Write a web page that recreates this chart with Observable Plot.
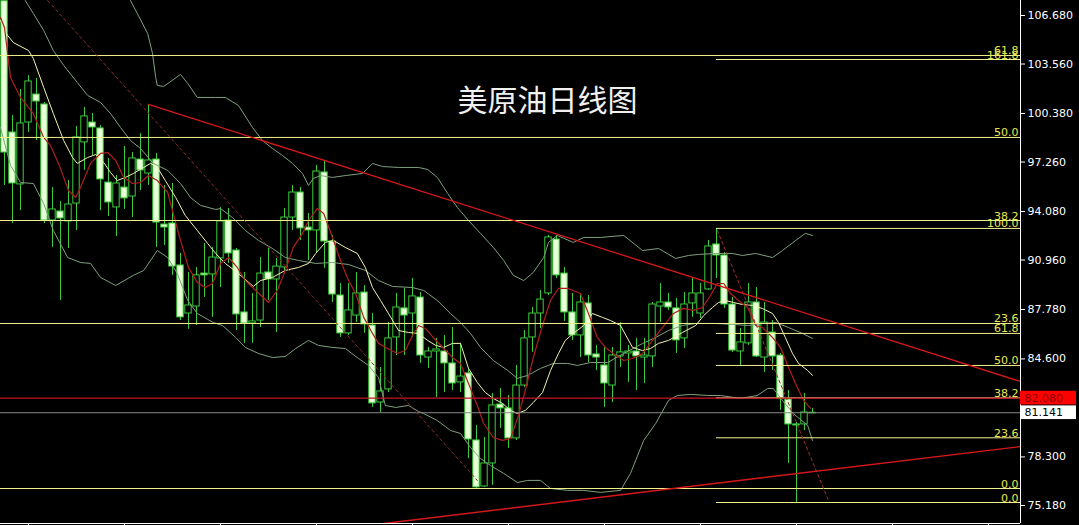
<!DOCTYPE html>
<html>
<head>
<meta charset="utf-8">
<script src="https://cdn.jsdelivr.net/npm/d3@7"></script>
<script src="https://cdn.jsdelivr.net/npm/@observablehq/plot@0.6"></script>
<style>
  html, body { margin: 0; padding: 0; background: #000; }
  #chart svg { display: block; }
</style>
</head>
<body>
<div id="chart"></div>
<script>
// ---------- DATA (candle index 0..101, prices in USD) ----------
const open = [
  107.60, 99.16, 95.82, 99.80, 101.60, 100.96, 93.50, 94.08, 93.44, 94.59,
  98.52, 99.80, 99.42, 95.94, 94.34, 95.62, 95.04, 97.42, 96.52, 97.42,
  93.24, 93.31, 90.61, 87.52, 87.97, 90.09, 90.03, 91.06, 93.50, 91.57,
  87.59, 86.88, 87.07, 90.16, 89.71, 90.48, 93.69, 95.30, 93.05, 92.86,
  96.59, 92.15, 88.68, 86.24, 87.39, 88.87, 86.75, 81.80, 82.64, 85.98,
  87.85, 87.52, 88.55, 84.69, 85.08, 85.08, 84.31, 83.09, 83.67, 79.36,
  76.40, 77.88, 81.67, 81.42, 79.49, 82.89, 85.98, 87.52, 88.81, 92.28,
  90.09, 87.59, 86.11, 88.17, 84.89, 84.18, 82.89, 84.76, 84.95, 85.08,
  84.69, 84.76, 87.97, 88.23, 87.85, 85.92, 88.17, 87.52, 89.07, 91.96,
  91.25, 88.10, 85.08, 85.60, 88.23, 84.69, 86.30, 84.82, 81.99, 80.39,
  80.39, 81.10];
const high = [
  107.64, 100.25, 101.92, 102.82, 102.63, 101.09, 95.62, 94.72, 96.07, 99.54,
  100.77, 100.38, 99.61, 97.49, 96.39, 98.26, 97.87, 99.09, 100.96, 97.81,
  95.75, 95.88, 91.38, 90.16, 90.48, 92.02, 91.77, 94.34, 94.27, 91.70,
  90.16, 88.81, 91.12, 91.70, 91.06, 94.27, 95.75, 95.62, 93.95, 97.04,
  97.36, 92.54, 89.45, 89.45, 90.16, 89.32, 87.52, 84.05, 86.94, 88.81,
  89.13, 89.77, 88.87, 85.34, 85.92, 86.11, 86.62, 85.60, 83.99, 80.32,
  79.55, 82.38, 82.70, 82.25, 84.18, 86.43, 87.91, 89.00, 92.54, 92.54,
  90.48, 88.81, 88.81, 88.68, 85.47, 85.34, 85.34, 86.94, 85.47, 85.92,
  85.92, 88.23, 89.45, 88.81, 88.49, 88.87, 89.77, 89.45, 92.22, 92.99,
  91.44, 88.55, 86.56, 89.45, 89.19, 88.23, 87.07, 84.95, 82.57, 80.52,
  82.38, 81.42];
const low = [
  95.75, 93.31, 94.14, 99.16, 98.64, 93.31, 91.77, 88.36, 91.70, 92.86,
  96.72, 97.68, 94.14, 93.76, 92.47, 94.21, 93.69, 95.43, 95.75, 91.77,
  91.89, 89.97, 87.07, 86.50, 86.75, 88.55, 87.27, 89.19, 90.74, 86.43,
  85.60, 85.60, 86.62, 88.36, 86.30, 90.29, 92.86, 92.22, 90.93, 91.38,
  90.42, 88.23, 85.98, 86.11, 86.94, 86.24, 81.48, 81.16, 82.44, 84.82,
  84.82, 85.98, 84.31, 83.99, 82.12, 82.44, 82.57, 82.44, 78.20, 76.27,
  76.34, 76.47, 80.13, 78.85, 79.36, 82.77, 85.02, 86.56, 88.68, 89.77,
  87.01, 85.79, 84.69, 84.37, 83.86, 81.48, 81.80, 84.05, 83.09, 82.57,
  83.02, 84.05, 86.94, 87.72, 84.95, 85.27, 87.27, 87.20, 89.00, 89.77,
  87.85, 85.02, 84.18, 85.47, 84.69, 83.73, 83.86, 81.29, 77.88, 75.37,
  80.00, 81.09];
const close = [
  97.87, 95.88, 99.74, 102.44, 101.15, 93.50, 94.21, 93.63, 94.53, 98.84,
  100.19, 99.48, 96.14, 94.66, 95.88, 94.92, 97.49, 96.72, 97.36, 93.37,
  93.05, 90.54, 87.27, 88.04, 89.97, 89.97, 91.12, 93.44, 91.38, 87.46,
  86.88, 87.01, 90.09, 89.71, 90.54, 93.69, 95.30, 92.99, 92.86, 96.65,
  92.15, 88.74, 86.24, 87.72, 88.81, 86.82, 81.74, 82.51, 85.92, 87.91,
  87.39, 88.62, 84.82, 85.08, 85.21, 84.31, 83.02, 83.47, 79.42, 76.34,
  77.88, 81.61, 81.42, 79.49, 82.89, 85.92, 87.52, 88.42, 92.41, 89.97,
  87.59, 86.11, 88.23, 84.82, 84.69, 83.02, 84.82, 85.02, 85.08, 84.76,
  84.82, 88.10, 88.23, 87.91, 85.79, 88.10, 88.81, 88.81, 91.83, 91.25,
  88.10, 85.14, 85.66, 88.23, 84.76, 86.94, 84.76, 82.06, 80.39, 80.32,
  81.16, 81.141];

// Moving averages / Bollinger bands: [candle index, price]
const maFast = [[-0.5,106.55],[0,105.91],[0.75,102.69],[2,101.41],[3.6,100.38],[4.9,98.84],[5.75,98.32],[6.75,97.17],[8,95.43],[8.9,94.98],[9.5,95.62],[10.75,97.17],[12,97.81],[12.9,97.87],[13.9,97.36],[14.9,96.27],[16,95.88],[17,95.94],[18,96.39],[19.1,96.07],[20.4,95.30],[21.1,93.95],[22,92.22],[23,90.48],[24.1,89.52],[25.1,89.19],[26,89.45],[27,90.74],[28,91.12],[29.1,90.48],[30.1,89.64],[31.4,89.00],[33,88.23],[34.1,89.00],[35.1,90.29],[36.1,91.77],[37.25,92.67],[38,93.50],[39.1,94.27],[39.9,93.95],[41,92.41],[42,90.93],[43,89.64],[43.9,88.81],[44.9,87.27],[46,86.24],[46.75,85.60],[47.9,85.27],[49.1,84.95],[50.1,85.14],[51,86.11],[51.75,86.75],[52.6,86.56],[53.6,85.98],[54.9,85.27],[56,84.69],[57,84.31],[58,83.02],[59.1,81.61],[59.9,80.45],[61.1,79.55],[62.25,79.36],[63.25,79.49],[64.25,80.97],[65.1,82.57],[66.1,84.69],[67.25,86.75],[68.25,88.36],[69.25,89.13],[70.4,89.13],[72,88.81],[73,87.52],[74.1,85.98],[75.1,85.34],[76.1,84.95],[77.4,84.50],[78.5,84.63],[79.75,84.95],[81,85.79],[82.25,86.62],[83.6,87.52],[84.9,87.85],[86.1,87.72],[87.25,87.91],[88.25,88.68],[89.1,89.45],[89.9,89.45],[90.75,88.81],[91.75,88.36],[92.9,87.91],[93.9,86.75],[94.75,86.62],[96,85.98],[97,85.34],[98,84.05],[99.1,82.77],[99.9,81.93],[100.75,81.42]];
const maSlow = [[-0.5,106.36],[0.1,105.59],[1.1,104.94],[3,104.43],[3.6,103.92],[4.9,102.05],[6.1,100.38],[7.4,98.64],[8.5,97.55],[9.1,97.17],[10.4,97.55],[11.4,97.74],[12.4,97.23],[13.25,96.59],[14.1,96.07],[15.1,96.27],[16.1,96.52],[17.4,96.91],[18.25,97.17],[19.1,96.91],[20.1,96.07],[21.4,94.98],[22.6,93.82],[24.1,92.86],[25.4,92.02],[26.4,91.38],[27.6,90.74],[29.25,90.09],[31.1,89.26],[32,89.64],[33.5,89.84],[35.1,90.29],[36.75,90.48],[38,90.74],[38.9,91.38],[40.1,92.09],[41.1,92.22],[42.6,91.77],[44.1,91.38],[45.1,90.48],[46,89.19],[47,88.36],[48,87.52],[49.25,86.43],[50.5,86.30],[51.75,86.24],[52.9,85.79],[53.9,85.47],[54.9,85.34],[56,85.60],[57,85.60],[58,83.99],[59.1,83.09],[60.1,82.44],[61.1,82.06],[62.25,81.74],[63.25,81.29],[64.1,81.09],[65.1,81.29],[66.1,81.80],[67.25,82.44],[68.25,83.86],[69.25,84.95],[70.1,85.79],[71.1,86.24],[72.4,86.75],[73.5,87.52],[74.75,87.27],[75.75,87.07],[77,86.75],[78.5,85.34],[79.75,85.14],[80.75,85.27],[81.75,85.60],[83,85.79],[84.75,86.30],[86.4,86.75],[87.4,87.39],[88.5,87.91],[89.25,88.23],[90.1,88.36],[91.1,88.23],[92.25,88.10],[93.5,88.04],[94.75,87.84],[96,87.52],[96.75,86.94],[97.6,85.98],[98.5,84.95],[99.25,84.31],[100.4,83.86],[101,83.54]];
const bandUpper = [[15.75,107.64],[16.6,106.81],[17.9,105.52],[18.5,104.24],[18.9,102.69],[19.1,102.18],[19.9,102.12],[22,102.89],[22.9,102.31],[24.1,101.41],[26.4,101.41],[27.6,101.41],[29.25,100.89],[31,99.48],[32.25,98.64],[33.5,98.13],[34.75,97.68],[36,97.17],[37.25,96.52],[38,95.75],[38.6,96.20],[39.5,96.39],[41,96.27],[42.6,96.39],[44.75,96.52],[46,97.17],[47.25,96.97],[49.25,96.91],[51.75,96.91],[52.9,96.78],[54.1,96.27],[55.4,95.24],[56.6,94.34],[58,93.50],[59.5,92.67],[61.1,91.77],[62.4,90.93],[63.6,89.97],[64.9,89.64],[66.1,90.16],[67.4,91.12],[68,92.09],[69.1,92.54],[71.1,92.09],[72.4,92.41],[74.5,92.41],[77.4,92.54],[79.75,91.57],[81.75,91.70],[83.9,91.06],[85.5,91.25],[86.75,91.32],[88.9,91.38],[91,91.38],[92.25,91.25],[93.9,91.38],[96,91.12],[97.25,91.57],[98.9,92.22],[100.1,92.67],[101,92.54]];
const bandMiddle = [[2.6,107.64],[3.6,106.81],[4.9,105.72],[6.1,104.43],[7.4,103.47],[9.1,102.37],[10.4,101.54],[12,101.09],[13.25,100.38],[14.5,99.48],[15.75,98.64],[17,98.13],[18.6,97.17],[20.4,96.72],[22,95.88],[23.25,94.98],[24.5,94.47],[26.4,94.21],[27,94.27],[28.5,93.69],[30.1,92.86],[31.75,92.22],[33.5,91.70],[35.1,91.12],[36.75,90.93],[38.9,90.74],[41,90.80],[43,90.67],[45.1,90.29],[46.75,89.64],[48.5,89.26],[51,89.19],[52.4,89.00],[54.1,88.36],[55.75,87.52],[57,86.94],[58.25,86.24],[59.5,85.34],[61.1,84.50],[62.9,83.86],[64.1,83.35],[65.4,83.54],[67,83.99],[68.6,84.31],[70.4,84.31],[71.6,84.18],[73.25,84.37],[75.4,84.37],[77.4,84.95],[79.75,85.59],[81.4,85.98],[83,86.43],[84.75,86.75],[86.4,86.88],[88.9,86.88],[91,86.82],[93,86.75],[94.75,86.88],[96.4,86.94],[98,86.62],[99.75,86.24],[101,85.92]];
const bandLower = [[-0.5,99.48],[0.75,97.04],[2,95.94],[3.6,95.88],[4.9,94.59],[6.1,92.86],[7.9,91.12],[9.5,90.80],[10.75,90.74],[12,89.84],[13.9,89.32],[16.1,89.97],[17.4,90.29],[19.1,91.57],[20.4,91.12],[21.6,90.09],[22.9,88.36],[24.1,87.52],[26.1,86.94],[27.25,86.75],[28.9,85.98],[30.1,85.34],[31.75,84.95],[33.5,84.69],[35.1,84.76],[36.4,85.27],[38,85.79],[39.25,85.47],[41,85.34],[42.6,85.27],[44.25,84.63],[45.5,84.18],[46.75,83.41],[47.6,81.61],[48.9,81.48],[50.5,81.61],[51.75,81.22],[52.4,81.09],[54.1,80.64],[55.75,80.00],[57,79.81],[58.25,78.91],[59.5,78.20],[60.75,77.75],[62.4,77.24],[64.1,76.66],[65.4,76.79],[67,76.79],[68.25,76.27],[70.4,76.15],[72.4,76.15],[74.5,76.02],[77,76.15],[78.25,77.24],[79.9,79.36],[81.4,80.45],[83,81.93],[84.1,82.25],[85.75,82.32],[87.9,82.25],[89.5,82.25],[92,82.06],[94.1,82.25],[95.4,82.70],[96.1,82.70],[97.25,81.93],[98.6,81.09],[100.4,80.32],[101,79.36]];

// Fibonacci retracement sets
const fibALabels = ["0.0", "23.6", "38.2", "50.0", "61.8"];
const fibAValues = [76.27, 86.88, 93.50, 98.84, 104.11];
const fibBLabels = ["0.0", "23.6", "38.2", "50.0", "61.8", "100.0", "161.8"];
const fibBValues = [75.37, 79.53, 82.10, 84.18, 86.24, 92.99, 103.85];
const fibBStart = 89;

// Trend lines [candle index, price]
const resistanceLine = [[18, 100.96], [127, 83.15]];
const supportLine = [[47.4, 74.02], [127, 78.97]];
const channelDash1 = [[5.4, 107.64], [59.1, 76.79]];
const channelDash2 = [[89.1, 92.86], [103, 75.50]];

// Price markers and axis ticks
const markPrice = 82.080;
const lastPrice = 81.141;
const yTicks = [106.680, 103.560, 100.380, 97.260, 94.080, 90.960, 87.780, 84.600, 78.300, 75.180];
const xTicks = [3, 15, 27, 39, 51, 63, 75, 87, 99, 111, 123];
const title = "美原油日线图";

// ---------- CHART ----------
const xMin = -0.5, xMax = 127, yMin = 74.02, yMax = 107.644;
const green = "#3ccc3c";
const bearFill = "#e8ffd8";
const fibLine = "#f2f28c";
const fibText = "#e8e84c";
const candles = open.map((o, i) => ({i, open: o, high: high[i], low: low[i], close: close[i]}));
const fibA = fibAValues.map((v, k) => ({v, label: fibALabels[k]}));
const fibB = fibBValues.map((v, k) => ({v, label: fibBLabels[k]}));
const px = d => d[0], py = d => d[1];

const chart = Plot.plot({
  width: 1079,
  height: 525,
  marginLeft: 0,
  marginRight: 59,
  marginTop: 0,
  marginBottom: 2,
  style: {background: "#000", color: "#fff", fontFamily: "DejaVu Sans", overflow: "visible"},
  x: {type: "linear", domain: [xMin, xMax], axis: null},
  y: {type: "linear", domain: [yMin, yMax], axis: null},
  marks: [
    // candles
    Plot.ruleX(candles, {x: "i", y1: "low", y2: "high", stroke: green, strokeWidth: 1}),
    Plot.rect(candles, {
      x1: d => d.i - 0.4, x2: d => d.i + 0.4, y1: "open", y2: "close",
      fill: d => d.close >= d.open ? "#000" : bearFill, stroke: green, strokeWidth: 1
    }),
    // Bollinger bands
    Plot.line(bandUpper, {x: px, y: py, stroke: "#7fa07f", strokeWidth: 1}),
    Plot.line(bandMiddle, {x: px, y: py, stroke: "#7fa07f", strokeWidth: 1}),
    Plot.line(bandLower, {x: px, y: py, stroke: "#7fa07f", strokeWidth: 1}),
    // moving averages
    Plot.line(maSlow, {x: px, y: py, stroke: "#f4f4b0", strokeWidth: 1}),
    Plot.line(maFast, {x: px, y: py, stroke: "#b01e1e", strokeWidth: 1.2}),
    // Fibonacci lines
    Plot.ruleY(fibA, {y: "v", stroke: fibLine, strokeWidth: 1}),
    Plot.ruleY(fibB, {y: "v", x1: fibBStart, x2: xMax, stroke: fibLine, strokeWidth: 1}),
    Plot.text(fibA, {x: xMax, y: "v", text: "label", dx: -2, dy: -1, textAnchor: "end", lineAnchor: "bottom", fill: fibText, fontSize: 11}),
    Plot.text(fibB, {x: xMax, y: "v", text: "label", dx: -2, dy: -1, textAnchor: "end", lineAnchor: "bottom", fill: fibText, fontSize: 11}),
    // price lines
    Plot.ruleY([markPrice], {stroke: "#c8142a", strokeWidth: 1.2}),
    Plot.ruleY([lastPrice], {stroke: "#8a8a8a", strokeWidth: 1}),
    // trend lines
    Plot.line(resistanceLine, {x: px, y: py, stroke: "#d81818", strokeWidth: 1.3}),
    Plot.line(supportLine, {x: px, y: py, stroke: "#d81818", strokeWidth: 1.3}),
    Plot.line(channelDash1, {x: px, y: py, stroke: "#8c2a2a", strokeWidth: 1, strokeDasharray: "3,3"}),
    Plot.line(channelDash2, {x: px, y: py, stroke: "#a03030", strokeWidth: 1, strokeDasharray: "3,3"}),
    // frame lines
    Plot.ruleX([xMax], {stroke: "#fff", strokeWidth: 1}),
    Plot.ruleY([yMin], {stroke: "#fff", strokeWidth: 1}),
    Plot.axisX(xTicks, {anchor: "bottom", tickSize: 2, tickFormat: () => "", label: null, stroke: "#fff"}),
    Plot.axisY(yTicks, {anchor: "right", tickSize: 4, tickPadding: 3, fontSize: 11, label: null, tickFormat: d => d.toFixed(3), fill: "#fff", stroke: "#fff"}),
    // price boxes
    Plot.rect([markPrice], {x1: xMax, x2: xMax + 7, y1: d => d - 0.44, y2: d => d + 0.44, fill: "#ff0000"}),
    Plot.text([markPrice], {x: xMax, y: d => d, dx: 4, text: d => d.toFixed(3), textAnchor: "start", fill: "#8c0000", fontSize: 11}),
    Plot.rect([lastPrice], {x1: xMax, x2: xMax + 7, y1: d => d - 0.44, y2: d => d + 0.44, fill: "#ffffff"}),
    Plot.text([lastPrice], {x: xMax, y: d => d, dx: 4, text: d => d.toFixed(3), textAnchor: "start", fill: "#000", fontSize: 11}),
    // title
    Plot.text([title], {frameAnchor: "top-left", dx: 547, dy: 101, textAnchor: "middle", lineAnchor: "middle",
      fontSize: 30, fill: "#f0f0f0", fontFamily: "Noto Sans CJK SC"})
  ]
});
document.getElementById("chart").appendChild(chart);
</script>
</body>
</html>
